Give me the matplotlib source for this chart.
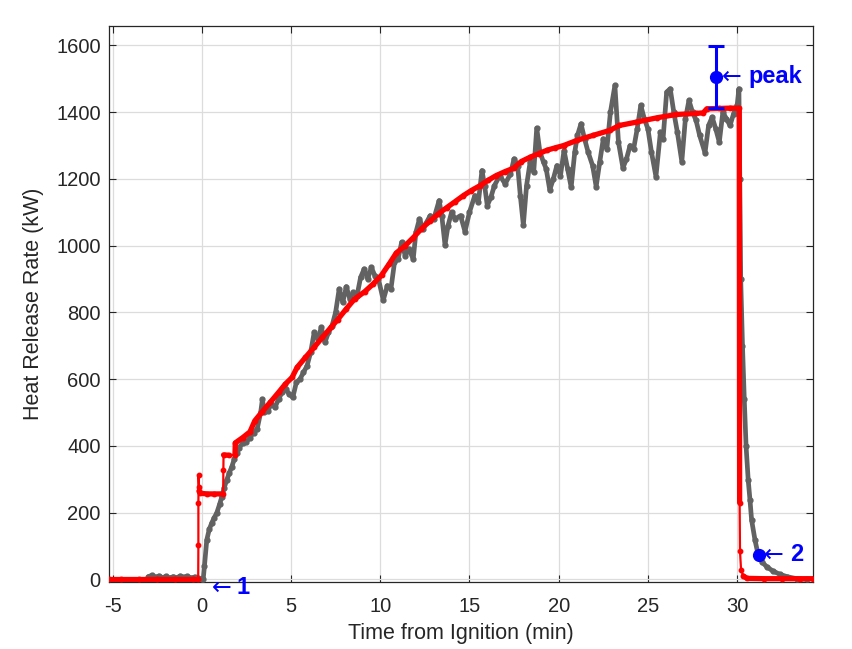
import numpy as np
import matplotlib

matplotlib.use("Agg")
import matplotlib.pyplot as plt

plt.rcParams["font.family"] = ["Liberation Sans", "DejaVu Sans"]
plt.rcParams["axes.unicode_minus"] = False

# measured heat release rate (gray), minutes from ignition / kW
gray_t = [-3.0, -2.8, -2.6, -2.4, -2.2, -2.0, -1.8, -1.6, -1.4, -1.2, -1.0, -0.8,
          -0.6, -0.4, -0.2, 0.0, 0.08, 0.15, 0.28, 0.42, 0.56, 0.7, 0.84, 1.0,
          1.12, 1.26, 1.4, 1.55, 1.68, 1.82, 1.96, 2.1, 2.3, 2.5, 2.7, 2.9,
          3.1, 3.3, 3.4, 3.5, 3.7, 3.9, 4.1, 4.3, 4.5, 4.7, 4.9, 5.1,
          5.3, 5.5, 5.7, 5.9, 6.1, 6.3, 6.5, 6.7, 6.9, 7.1, 7.3, 7.5,
          7.7, 7.9, 8.1, 8.3, 8.5, 8.7, 8.9, 9.1, 9.3, 9.5, 9.7, 9.9,
          10.17, 10.4, 10.6, 10.8, 11.0, 11.2, 11.4, 11.6, 11.85, 12.0, 12.2, 12.4,
          12.6, 12.8, 13.0, 13.3, 13.45, 13.63, 13.8, 14.0, 14.2, 14.5, 14.75, 15.0,
          15.3, 15.5, 15.7, 15.85, 16.0, 16.2, 16.4, 16.7, 17.0, 17.3, 17.5, 17.7,
          17.85, 18.02, 18.2, 18.4, 18.6, 18.77, 18.95, 19.15, 19.3, 19.5, 19.7, 19.9,
          20.1, 20.3, 20.5, 20.7, 20.9, 21.05, 21.25, 21.45, 21.65, 21.9, 22.1, 22.3,
          22.5, 22.7, 22.9, 23.15, 23.35, 23.6, 23.8, 24.0, 24.2, 24.4, 24.6, 24.8,
          25.0, 25.2, 25.45, 25.7, 25.85, 26.05, 26.25, 26.45, 26.65, 26.9, 27.1, 27.3,
          27.5, 27.7, 27.9, 28.2, 28.4, 28.6, 28.8, 29.0, 29.2, 29.4, 29.6, 29.8,
          30.0, 30.1, 30.15, 30.2, 30.3, 30.4, 30.5, 30.62, 30.72, 30.81, 31.0, 31.18,
          31.4, 31.65, 32.0, 32.4, 32.8, 33.33, 33.9]
gray_v = [8, 12, 6, 10, 5, 9, 4, 8, 5, 10, 6, 9,
          4, 7, 3, 2, 0, 40, 118, 150, 169, 185, 199, 225,
          247, 275, 298, 320, 337, 360, 378, 395, 409, 412, 425, 440,
          450, 500, 540, 500, 505, 525, 515, 540, 560, 570, 555, 545,
          590, 600, 620, 640, 680, 740, 720, 755, 710, 740, 760, 800,
          870, 830, 877, 840, 860, 850, 905, 930, 900, 935, 910, 900,
          837, 880, 870, 950, 960, 1010, 970, 990, 960, 1040, 1080, 1050,
          1070, 1090, 1080, 1135, 1090, 1002, 1060, 1100, 1080, 1090, 1042, 1100,
          1150, 1130, 1225, 1180, 1120, 1145, 1180, 1210, 1185, 1215, 1260, 1240,
          1150, 1062, 1180, 1250, 1220, 1352, 1280, 1250, 1230, 1167, 1200, 1240,
          1210, 1285, 1230, 1175, 1280, 1330, 1365, 1320, 1280, 1240, 1177, 1250,
          1320, 1290, 1400, 1480, 1310, 1233, 1260, 1300, 1290, 1350, 1420, 1380,
          1350, 1280, 1207, 1340, 1320, 1460, 1470, 1400, 1340, 1252, 1380, 1435,
          1400, 1375, 1330, 1278, 1360, 1385, 1350, 1310, 1400, 1380, 1360, 1395,
          1420, 1470, 1200, 900, 700, 540, 400, 298, 238, 178, 118, 73,
          52, 38, 25, 15, 8, 2, 0]

# smoothed / modelled curve (red)
red_t = [-5.2, -4.5, -3.5, -2.5, -1.5, -0.5, -0.2,
         -0.19, -0.19, -0.18, -0.18,
         -0.15, -0.08, 0.3, 0.7, 1.2,
         1.21, 1.22, 1.5,
         1.86, 1.88, 2.3, 2.7, 2.97, 3.35, 3.83, 4.3, 4.68, 5.06, 5.34, 5.81,
         6.29, 6.76, 7.24, 7.61, 8.09, 8.56, 9.13, 9.6, 10.08, 10.5, 10.9, 11.4,
         11.85, 12.3, 12.79, 13.25, 13.73, 14.2, 14.66, 15.1, 15.6, 16.05, 16.5, 17.0,
         17.47, 17.9, 18.4, 18.9, 19.35, 19.8, 20.28, 21.0, 21.9, 22.85, 23.4, 24.35,
         25.5, 26.6, 27.7, 28.1, 28.3, 29.0, 29.6, 30.12,
         30.14, 30.16,
         30.22, 30.35, 30.55, 31.5, 32.5, 33.5, 34.25]
red_v = [0, 0, 0, 0, 0, 0, 0,
         103, 229, 277, 313,
         265, 258, 256, 256, 256,
         327, 373, 372,
         373, 409, 425, 442, 475, 500, 530, 560, 585, 605, 635, 665,
         695, 725, 755, 778, 810, 840, 862, 885, 912, 945, 978, 1000,
         1024, 1050, 1074, 1095, 1114, 1132, 1150, 1165, 1180, 1196, 1210, 1222,
         1232, 1252, 1265, 1276, 1286, 1293, 1300, 1315, 1330, 1345, 1360, 1370,
         1383, 1393, 1396, 1398, 1410, 1411, 1412, 1412,
         230, 85,
         28, 10, 3, 2, 2, 2, 2]
# runs of densely sampled points (drawn heavier, like the original dot trail)
red_dense = [(0, 7), (11, 16), (17, 19), (19, 76), (78, 87)]

# peak estimate with uncertainty, and end-of-fire point
peak_t, peak_v, peak_lo, peak_hi = 28.81, 1506, 1413, 1599
end_t, end_v = 31.22, 73
lab1_t, lab1_v = 0.55, -24

GRAY = "#626262"
RED = "#ff0000"
BLUE = "#0000ff"
AXC = "#262626"

fig = plt.figure(figsize=(8.52, 6.49), dpi=100)
ax = fig.add_axes([0.1279, 0.1032, 0.8263, 0.8567])

ax.plot(gray_t, gray_v, color=GRAY, lw=3.4, marker="o", ms=3.5,
        solid_joinstyle="round", solid_capstyle="round", zorder=3)

ax.plot(red_t, red_v, color=RED, lw=1.6, marker="o", ms=3.2, zorder=4)
for a, b in red_dense:
    ax.plot(red_t[a:b], red_v[a:b], color=RED, lw=3.8, solid_joinstyle="round",
            solid_capstyle="round", zorder=4)

ax.errorbar([peak_t], [peak_v], yerr=[[peak_v - peak_lo], [peak_hi - peak_v]],
            fmt="o", color=BLUE, ms=8.5, elinewidth=2.2, capsize=6, capthick=2.2, zorder=6)
ax.plot([end_t], [end_v], "o", color=BLUE, ms=8.5, zorder=6)

arrow_kw = dict(color=BLUE, fontsize=17, va="center", ha="left", annotation_clip=False,
                textcoords="offset pixels", family="DejaVu Sans", zorder=7)
bold_kw = dict(color=BLUE, fontsize=17, fontweight="bold", va="center", ha="left",
               annotation_clip=False, textcoords="offset pixels", zorder=7)
ax.annotate("\u2190", (peak_t, peak_v), xytext=(6, 0), **arrow_kw)
ax.annotate("peak", (peak_t, peak_v), xytext=(33, 0), **bold_kw)
ax.annotate("\u2190", (end_t, end_v), xytext=(5, 0), **arrow_kw)
ax.annotate("2", (end_t, end_v), xytext=(31, 0), **bold_kw)
ax.annotate("\u2190", (lab1_t, lab1_v), xytext=(0, 0), **arrow_kw)
ax.annotate("1", (lab1_t, lab1_v), xytext=(25, 0), **bold_kw)

ax.set_xlim(-5.2, 34.25)
ax.set_ylim(-8, 1658)
ax.set_xticks(np.arange(-5, 31, 5))
ax.set_yticks(np.arange(0, 1601, 200))
ax.grid(True, color="#dcdcdc", lw=0.9)
ax.set_axisbelow(True)
ax.tick_params(direction="in", length=5, width=0.8, top=True, right=True,
               colors=AXC, labelsize=14.5)
ax.tick_params(axis="x", pad=11)
ax.tick_params(axis="y", pad=6)
for s in ax.spines.values():
    s.set_color(AXC)
    s.set_linewidth(0.9)

ax.set_xlabel("Time from Ignition (min)", fontsize=15.5, color=AXC, labelpad=5)
ax.set_ylabel("Heat Release Rate (kW)", fontsize=15.5, color=AXC, labelpad=9)

fig.savefig("out.png", dpi=100, facecolor="white")
